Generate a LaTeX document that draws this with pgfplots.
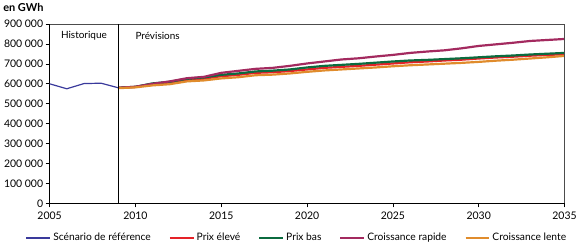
\documentclass[border=0pt]{standalone}
\usepackage{pgfplots}
\pgfplotsset{compat=1.18}
\usepackage{fontspec}
\setmainfont{Lato}

\definecolor{cref}{HTML}{3A3A9C}
\definecolor{chigh}{HTML}{E52228}
\definecolor{clow}{HTML}{0B6B3F}
\definecolor{cfast}{HTML}{A32A5F}
\definecolor{cslow}{HTML}{E08C2C}

\begin{document}
\begin{tikzpicture}
\begin{axis}[
  scale only axis,
  width=517pt, height=180pt,
  xmin=2005, xmax=2035,
  ymin=0, ymax=900000,
  xtick={2005,2010,...,2035},
  ytick={0,100000,...,900000},
  axis x line*=bottom, axis y line*=left,
  axis line style={-, black, line width=0.8pt},
  tick align=outside, major tick length=4pt,
  tick style={black, line width=0.6pt},
  x tick label style={/pgf/number format/.cd, fixed, precision=0, 1000 sep={}, /tikz/.cd, font=\fontsize{10.5}{12}\selectfont, yshift=-1pt},
  y tick label style={/pgf/number format/.cd, fixed, precision=0, 1000 sep={\ }, /tikz/.cd, font=\fontsize{10.5}{12}\selectfont, xshift=1pt},
  /pgf/number format/assume math mode=true,
  scaled y ticks=false,
  legend columns=5,
  legend style={at={(0.48,-0.15)}, anchor=north, draw=none,
    font=\fontsize{10.3}{12}\selectfont, inner sep=1pt,
    /tikz/every even column/.append style={column sep=16pt}},
  legend image code/.code={\draw[#1, line width=2pt] (0pt,0pt) -- (24pt,0pt);},
  clip=false,
]
\addplot[cref, line width=1.2pt] coordinates {
  (2005,600000) (2006,575000) (2007,601000) (2008,603000) (2009,580000)};
\addlegendentry{Scénario de référence}

\addplot[chigh, line width=2.2pt] coordinates {
  (2009,580000) (2010,584000) (2011,598000) (2012,605000) (2013,620000)
  (2014,626000) (2015,638000) (2016,645000) (2017,655000) (2018,658000)
  (2019,664000) (2020,672000) (2021,680000) (2022,685000) (2023,690000)
  (2024,696000) (2025,702000) (2026,708000) (2027,712000) (2028,717000)
  (2029,721000) (2030,727000) (2031,732000) (2032,736000) (2033,741000)
  (2034,745000) (2035,748000)};
\addlegendentry{Prix élevé}

\addplot[clow, line width=2.2pt] coordinates {
  (2009,580000) (2010,585000) (2011,602000) (2012,610000) (2013,625000)
  (2014,632000) (2015,645000) (2016,652000) (2017,662000) (2018,666000)
  (2019,672000) (2020,682000) (2021,690000) (2022,695000) (2023,700000)
  (2024,706000) (2025,712000) (2026,717000) (2027,720000) (2028,724000)
  (2029,728000) (2030,733000) (2031,738000) (2032,742000) (2033,747000)
  (2034,751000) (2035,755000)};
\addlegendentry{Prix bas}

\addplot[cfast, line width=2.2pt] coordinates {
  (2009,580000) (2010,585000) (2011,600000) (2012,612000) (2013,628000)
  (2014,635000) (2015,655000) (2016,665000) (2017,675000) (2018,680000)
  (2019,690000) (2020,702000) (2021,712000) (2022,722000) (2023,728000)
  (2024,737000) (2025,745000) (2026,755000) (2027,762000) (2028,768000)
  (2029,778000) (2030,790000) (2031,798000) (2032,806000) (2033,815000)
  (2034,820000) (2035,825000)};
\addlegendentry{Croissance rapide}

\addplot[cslow, line width=2.2pt] coordinates {
  (2009,578000) (2010,582000) (2011,592000) (2012,598000) (2013,612000)
  (2014,617000) (2015,627000) (2016,633000) (2017,643000) (2018,646000)
  (2019,652000) (2020,660000) (2021,667000) (2022,672000) (2023,677000)
  (2024,682000) (2025,688000) (2026,693000) (2027,697000) (2028,701000)
  (2029,705000) (2030,710000) (2031,716000) (2032,721000) (2033,727000)
  (2034,733000) (2035,740000)};
\addlegendentry{Croissance lente}

\draw[black!70, line width=0.8pt] (rel axis cs:0,1) -- (rel axis cs:1,1) -- (rel axis cs:1,0);
\draw[black, line width=0.8pt] (axis cs:2009,0) -- (axis cs:2009,900000);
\node[font=\fontsize{10}{12}\selectfont] at (axis cs:2007,840000) {Historique};
\node[anchor=west, font=\fontsize{10}{12}\selectfont] at (axis cs:2009.8,840000) {Prévisions};
\node[anchor=south west, font=\bfseries\fontsize{11}{12}\selectfont, xshift=-50pt, yshift=9pt] at (rel axis cs:0,1) {en GWh};
\end{axis}
\end{tikzpicture}
\end{document}
